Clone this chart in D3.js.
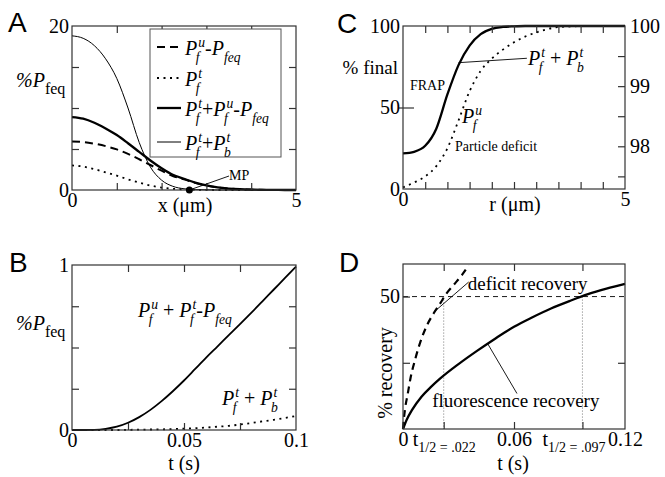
<!DOCTYPE html>
<meta charset="utf-8">
<style>
body{margin:0;background:#fff}
svg{display:block;background:#fff}
svg text{font-family:'Liberation Serif',serif;fill:#000}
.frame{fill:none;stroke:#333;stroke-width:1.2}
.tk{font-size:20px}
.line{fill:none;stroke:#000}
</style>
<body>
<script src="https://cdn.jsdelivr.net/npm/d3@7"></script>
<script>
var SERIF = "'Liberation Serif',serif";

// ---- A: profiles against x (um)
var aX     = [0,0.25,0.5,0.75,1,1.25,1.5,1.75,2,2.25,2.5,2.75,3,3.25,3.5,3.75,4,4.25,4.5,4.75,5];
var aDash  = [5.9,5.85,5.65,5.35,4.95,4.4,3.75,3.05,2.35,1.7,1.3,0.87,0.54,0.32,0.18,0.1,0.05,0.02,0.01,0,0];
var aDot   = [3.0,2.85,2.55,2.15,1.75,1.3,0.9,0.55,0.3,0.15,0.07,0.03,0.01,0,0,0,0,0,0,0,0];
var aThick = [8.9,8.7,8.2,7.5,6.7,5.7,4.65,3.6,2.65,1.85,1.37,0.9,0.55,0.32,0.18,0.1,0.05,0.02,0.01,0,0];
var aThin  = [18.8,18.5,17.6,16.0,13.6,10.0,5.8,2.8,1.2,0.45,0.15,0.05,0.02,0,0,0,0,0,0,0,0];
var mpX = 2.62;

// ---- B: against t (s)
var bT     = [0,0.005,0.01,0.015,0.02,0.025,0.03,0.035,0.04,0.045,0.05,0.055,0.06,0.065,0.07,0.075,0.08,0.085,0.09,0.095,0.1];
var bSolid = [0,0,0.001,0.007,0.02,0.044,0.078,0.122,0.175,0.235,0.3,0.37,0.44,0.507,0.575,0.642,0.71,0.78,0.85,0.92,0.99];
var bDot   = [0,0,0,0,0,0.001,0.002,0.003,0.004,0.006,0.008,0.011,0.015,0.02,0.025,0.033,0.042,0.052,0.062,0.073,0.085];

// ---- C: % final against r (um)
var cR       = [0,0.25,0.5,0.75,1,1.25,1.5,1.75,2,2.25,2.5,2.75,3,3.5,4,4.5,5];
var cFrap    = [21.8,22.8,26.5,37,58,76,88,95,98.2,99.4,99.8,100,100,100,100,100,100];
var cDeficit = [1,4,7.7,14,25,42,60,72.5,80,85.5,90,93.5,96,99.3,99.9,100,100];

// ---- D: % recovery against t (s)
var dT     = [0,0.002,0.005,0.01,0.015,0.02,0.03,0.04,0.05,0.06,0.07,0.08,0.09,0.1,0.11,0.12];
var dFluor = [0,3.5,7.3,12.2,15.8,19,24.5,29.5,34.2,38.6,42.2,45.5,48.3,50.9,53,54.8];
var dDefT  = [0,0.0005,0.0013,0.0025,0.004,0.0067,0.0094,0.013,0.0166,0.0202,0.0229,0.0274,0.0319,0.0355];
var dDef   = [0,4,8.5,13,19,26.6,32.9,39.2,43.7,47.5,50.6,54.4,58.2,61.8];
var dHalf  = [0.022, 0.097];

var svg = d3.select("body").append("svg").attr("width", 665).attr("height", 477);

function panel(box, xd, yd) {
  var x = d3.scaleLinear().domain(xd).range([box.x, box.x + box.w]);
  var y = d3.scaleLinear().domain(yd).range([box.y + box.h, box.y]);
  return {box: box, x: x, y: y};
}

function clean(g) {
  g.select(".domain").remove();
  g.attr("font-size", null).attr("font-family", null).style("color", "#333");
  g.selectAll("line").attr("stroke-width", 1.2);
  g.selectAll("text").style("font-family", SERIF).style("fill", "#000");
  return g;
}

function frame(p, xt, ytL, ytR) {
  var b = p.box;
  svg.append("g").attr("transform", "translate(0," + (b.y + b.h) + ")")
    .call(d3.axisBottom(p.x).tickValues(xt).tickSize(-7).tickFormat("")).call(clean);
  svg.append("g").attr("transform", "translate(0," + b.y + ")")
    .call(d3.axisTop(p.x).tickValues(xt).tickSize(-7).tickFormat("")).call(clean);
  svg.append("g").attr("transform", "translate(" + b.x + ",0)")
    .call(d3.axisLeft(p.y).tickValues(ytL).tickSize(-7).tickFormat("")).call(clean);
  if (ytR) svg.append("g").attr("transform", "translate(" + (b.x + b.w) + ",0)")
    .call(d3.axisRight(p.y).tickValues(ytR).tickSize(-7).tickFormat("")).call(clean);
  svg.append("rect").attr("class", "frame")
    .attr("x", b.x).attr("y", b.y).attr("width", b.w).attr("height", b.h);
}

function labels(p, xl, yl, xf, yf) {
  var b = p.box;
  var gx = svg.append("g").attr("class", "tk").attr("transform", "translate(0," + (b.y + b.h) + ")")
    .call(d3.axisBottom(p.x).tickValues(xl).tickSize(0).tickPadding(3).tickFormat(xf)).call(clean);
  svg.append("g").attr("class", "tk").attr("transform", "translate(" + b.x + ",0)")
    .call(d3.axisLeft(p.y).tickValues(yl).tickSize(0).tickPadding(3).tickFormat(yf)).call(clean);
  return gx;
}

function curve(p, xs, ys, w, dash) {
  var line = d3.line().x(function(d) { return p.x(d[0]); }).y(function(d) { return p.y(d[1]); })
    .curve(d3.curveMonotoneX);
  var path = svg.append("path").attr("class", "line").attr("d", line(d3.zip(xs, ys)))
    .attr("stroke-width", w);
  if (dash) path.attr("stroke-dasharray", dash);
  return path;
}

function txt(x, y, size) {
  return svg.append("text").attr("x", x).attr("y", y).style("font-size", size + "px")
    .style("font-family", SERIF);
}
// P with stacked sub/superscripts: tokens {t, up} or {sub, sup, up}
function math(x, y, toks, size) {
  var s = size * 0.68, cx = x;
  toks.forEach(function(k) {
    if (k.t != null) {
      var el = txt(cx, y, size).style("font-style", k.up ? "normal" : "italic")
        .style("white-space", "pre").text(k.t);
      cx += el.node().getComputedTextLength();
    } else {
      var w = 0;
      if (k.sup) {
        var e1 = txt(cx + 1, y - size * 0.42, s).style("font-style", "italic").text(k.sup);
        w = Math.max(w, e1.node().getComputedTextLength() + 1);
      }
      if (k.sub) {
        var e2 = txt(cx - (k.sup ? 1.5 : 0), y + size * 0.33, k.ss || s)
          .style("font-style", k.up ? "normal" : "italic").text(k.sub);
        w = Math.max(w, e2.node().getComputedTextLength());
      }
      cx += w;
    }
  });
  return cx;
}

function plain(x, y, str, size, anchor) {
  return txt(x, y, size).attr("text-anchor", anchor || "start").text(str);
}

function pointer(x1, y1, x2, y2) {
  svg.append("line").attr("x1", x1).attr("y1", y1).attr("x2", x2).attr("y2", y2)
    .attr("stroke", "#000").attr("stroke-width", 0.9);
}

function letter(x, y, s) {
  svg.append("text").attr("x", x).attr("y", y)
    .style("font-family", "'Liberation Sans',Arial,sans-serif").style("font-size", "28px").text(s);
}

var P = {t: "P"};

// ================= A
var A = panel({x: 72, y: 26, w: 224, h: 164}, [0, 5], [0, 20]);
curve(A, aX, aThin, 1);
curve(A, aX, aDot, 1.8, "2,4.5");
curve(A, aX, aDash, 2, "8,5");
curve(A, aX, aThick, 2.3);
frame(A, [1, 2, 3, 4], [5, 10, 15], [5, 10, 15]);
labels(A, [0, 5], [0, 20], d3.format("d"), d3.format("d"));
svg.append("circle").attr("cx", A.x(mpX)).attr("cy", A.y(0)).attr("r", 3.5).attr("fill", "#000");
pointer(A.x(mpX), A.y(0), 229, 176);
plain(229, 180, "MP", 14);
// legend
svg.append("rect").attr("x", 150).attr("y", 29).attr("width", 131).attr("height", 128)
  .attr("fill", "#fff").attr("stroke", "#555").attr("stroke-width", 1);
var leg = [
  {y: 47, dash: "8,5", w: 2, toks: [P, {sub: "f", sup: "u"}, {t: "-"}, P, {sub: "feq"}]},
  {y: 78, dash: "2,4.5", w: 1.8, toks: [P, {sub: "f", sup: "t"}]},
  {y: 108, dash: null, w: 2.3, toks: [P, {sub: "f", sup: "t"}, {t: "+", up: true}, P, {sub: "f", sup: "u"}, {t: "-"}, P, {sub: "feq"}]},
  {y: 142, dash: null, w: 1, toks: [P, {sub: "f", sup: "t"}, {t: "+", up: true}, P, {sub: "b", sup: "t"}]}
];
leg.forEach(function(r) {
  var l = svg.append("line").attr("x1", 157).attr("x2", 181).attr("y1", r.y).attr("y2", r.y)
    .attr("stroke", "#000").attr("stroke-width", r.w);
  if (r.dash) l.attr("stroke-dasharray", r.dash);
  math(185, r.y + 8, r.toks, 20);
});
math(16, 87, [{t: "%P"}, {sub: "feq", up: true, ss: 16}], 20);
plain(185, 212, "x (\u03bcm)", 20, "middle");
letter(8, 32, "A");

// ================= B
var B = panel({x: 72, y: 265, w: 224, h: 165}, [0, 0.1], [0, 1]);
curve(B, bT, bDot, 1.8, "2,4.5");
curve(B, bT, bSolid, 1.8);
frame(B, [0.025, 0.05, 0.075], [0.25, 0.5, 0.75], [0.25, 0.5, 0.75]);
labels(B, [0, 0.05, 0.1], [0, 1], function(d) { return d === 0 ? "0" : String(d); }, d3.format("d"));
math(138, 317, [P, {sub: "f", sup: "u"}, {t: " + ", up: true}, P, {sub: "f", sup: "t"}, {t: "-"}, P, {sub: "feq"}], 20);
math(222, 405, [P, {sub: "f", sup: "t"}, {t: " + ", up: true}, P, {sub: "b", sup: "t"}], 20);
math(16, 330, [{t: "%P"}, {sub: "feq", up: true, ss: 16}], 20);
plain(184, 470, "t (s)", 20, "middle");
letter(9, 272, "B");

// ================= C
var C = panel({x: 403, y: 26, w: 222, h: 163}, [0, 5], [0, 100]);
var cRight = d3.scaleLinear().domain([97.29, 100]).range([189, 26]);
curve(C, cR, cDeficit, 1.8, "2,4.5");
curve(C, cR, cFrap, 2.3);
frame(C, [0.5, 1, 1.5, 2, 2.5, 3, 3.5, 4, 4.5], [], null);
svg.append("g").attr("transform", "translate(625,0)")
  .call(d3.axisRight(cRight).tickValues([97.5, 98, 98.5, 99, 99.5]).tickSize(-7).tickFormat("")).call(clean);
svg.append("g").attr("transform", "translate(403,0)")
  .call(d3.axisLeft(C.y).tickValues([50]).tickSize(4).tickFormat("")).call(clean);
svg.append("g").attr("transform", "translate(403,0)")
  .call(d3.axisLeft(C.y).tickValues([50]).tickSize(-11).tickFormat("")).call(clean);
labels(C, [0, 5], [0, 50, 100], d3.format("d"), d3.format("d"));
svg.append("g").attr("class", "tk").attr("transform", "translate(625,0)")
  .call(d3.axisRight(cRight).tickValues([98, 99, 100]).tickSize(0).tickPadding(5).tickFormat(d3.format("d")))
  .call(clean);
pointer(C.x(1.25), C.y(77.5), C.x(2.79), C.y(80.2));
math(528, 65, [P, {sub: "f", sup: "t"}, {t: " + ", up: true}, P, {sub: "b", sup: "t"}], 20);
math(462, 123, [P, {sub: "f", sup: "u"}], 20);
plain(410, 90, "FRAP", 14);
plain(455, 151, "Particle deficit", 14);
plain(398, 74, "% final", 19, "end");
plain(515, 211, "r (\u03bcm)", 20, "middle");
letter(337, 33, "C");

// ================= D
var D = panel({x: 403, y: 264, w: 222, h: 165}, [0, 0.12], [0, 62.3]);
svg.append("line").attr("x1", D.x(0)).attr("x2", D.x(0.12)).attr("y1", D.y(50)).attr("y2", D.y(50))
  .attr("stroke", "#000").attr("stroke-width", 0.9).attr("stroke-dasharray", "5,4");
svg.selectAll(".half").data(dHalf).enter().append("line").attr("class", "half")
  .attr("x1", function(d) { return D.x(d); }).attr("x2", function(d) { return D.x(d); })
  .attr("y1", D.y(50)).attr("y2", D.y(0))
  .attr("stroke", "#555").attr("stroke-width", 0.8).attr("stroke-dasharray", "1,2");
curve(D, dDefT, dDef, 2.2, "7,5");
curve(D, dT, dFluor, 2.3);
frame(D, [0.022, 0.06, 0.097], [25, 50], [25]);
var gx = labels(D, [0, 0.022, 0.06, 0.097, 0.12], [50], function(d) { return d === 0 ? "0" : String(d); }, d3.format("d"));
gx.selectAll("text").each(function(d) {
  if (dHalf.indexOf(d) < 0) return;
  var t = d3.select(this).text("t");
  t.append("tspan").attr("dy", 6).style("font-size", "14px").text("1/2 = ." + String(d).split(".")[1]);
  if (d === 0.097) t.attr("dx", -9);
});
pointer(D.x(0.0166), D.y(44.1), D.x(0.0355), D.y(55.5));
pointer(D.x(0.0457), D.y(32.3), D.x(0.0616), D.y(13.4));
plain(D.x(0.035), D.y(52.5), "deficit recovery", 19);
plain(D.x(0.0158), D.y(8.4), "fluorescence recovery", 19);
svg.append("text").attr("transform", "translate(392,373) rotate(-90)").attr("text-anchor", "middle")
  .style("font-family", SERIF).style("font-size", "20px").text("% recovery");
plain(513, 470, "t (s)", 20, "middle");
letter(339, 272, "D");
</script>
